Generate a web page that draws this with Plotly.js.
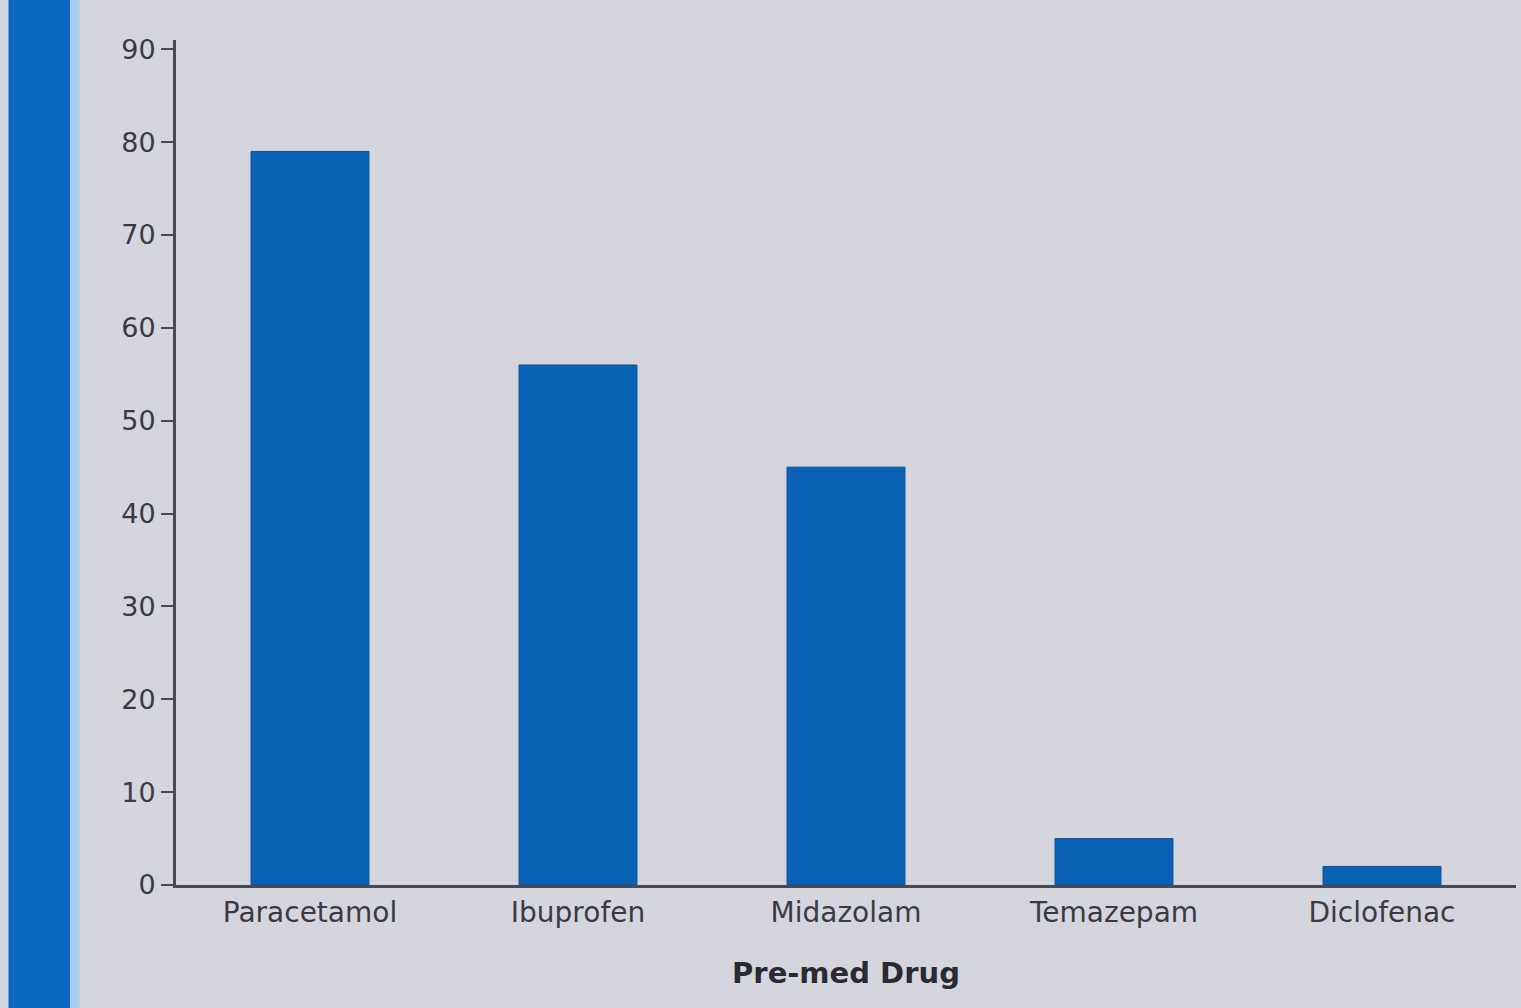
<!DOCTYPE html>
<html>
<head>
<meta charset="utf-8">
<script src="https://cdn.plot.ly/plotly-3.0.1.min.js"></script>
<style>html,body{margin:0;padding:0;background:#d5d6dd;}#chart{width:1521px;height:1008px;}</style>
</head>
<body>
<div id="chart"></div>
<script>
const drugs = ["Paracetamol", "Ibuprofen", "Midazolam", "Temazepam", "Diclofenac"];
const counts = [79, 56, 45, 5, 2];
const yTicks = [0, 10, 20, 30, 40, 50, 60, 70, 80, 90];

const trace = {
  type: "bar",
  x: drugs,
  y: counts,
  marker: {color: "#0a62b6", line: {color: "#0b4f94", width: 1}},
  hoverinfo: "x+y"
};

const layout = {
  width: 1521,
  height: 1008,
  paper_bgcolor: "#d5d6dd",
  plot_bgcolor: "#d5d6dd",
  margin: {l: 176, r: 5, t: 40, b: 123},
  bargap: 0.56,
  showlegend: false,
  font: {family: "DejaVu Sans, sans-serif", color: "#3a3a44"},
  xaxis: {
    type: "category",
    range: [-0.5, 4.5],
    showline: true,
    linecolor: "#4a4a55",
    linewidth: 3,
    showgrid: false,
    ticks: "",
    tickfont: {size: 28, color: "#3a3a44"},
    title: {text: "<b>Pre-med Drug</b>", font: {size: 29, color: "#2a2a33"}, standoff: 36}
  },
  yaxis: {
    range: [0, 91],
    tickvals: yTicks,
    showline: true,
    linecolor: "#4a4a55",
    linewidth: 3,
    showgrid: false,
    zeroline: false,
    ticks: "outside",
    ticklen: 12,
    tickwidth: 2,
    tickcolor: "#4a4a55",
    tickfont: {size: 27, color: "#3a3a44"}
  },
  shapes: [
    {type: "rect", xref: "paper", yref: "paper", x0: -0.125, x1: -0.079, y0: -0.2, y1: 1.1,
     fillcolor: "#0b68c2", line: {width: 0}, layer: "above"},
    {type: "rect", xref: "paper", yref: "paper", x0: -0.079, x1: -0.072, y0: -0.2, y1: 1.1,
     fillcolor: "#a9d0ee", line: {width: 0}, layer: "above"}
  ]
};

Plotly.newPlot("chart", [trace], layout, {displayModeBar: false, staticPlot: true});
</script>
</body>
</html>
